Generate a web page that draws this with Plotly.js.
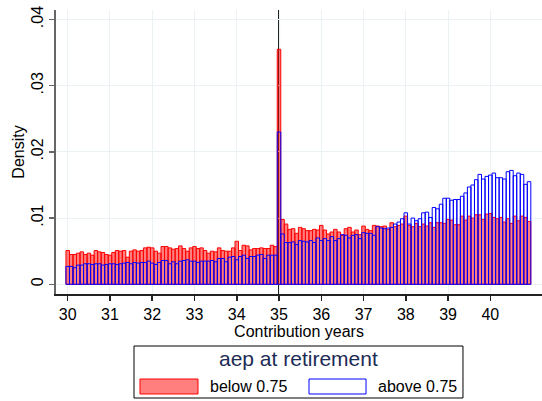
<!DOCTYPE html>
<html>
<head>
<meta charset="utf-8">
<script src="https://cdn.plot.ly/plotly-3.0.1.min.js"></script>
<style>html,body{margin:0;padding:0;background:#fff}#chart{width:542px;height:401px}</style>
</head>
<body>
<div id="chart"></div>
<script>
// Histogram bins: monthly bins (width 1/12 year) centred at 30, 30+1/12, ... 40+11/12
var binStart = 30;
var binWidth = 1 / 12;
var binCount = 132;

// Density for "below 0.75" (aep at retirement)
var belowDensity = [
  0.0051,0.0045,0.0045,0.0047,0.0049,0.0045,0.0047,0.0044,0.0051,0.0049,0.0048,0.0045,
  0.0044,0.0048,0.0051,0.0050,0.0051,0.0041,0.0050,0.0052,0.0050,0.0051,0.0055,0.0056,
  0.0055,0.0050,0.0047,0.0057,0.0057,0.0055,0.0053,0.0054,0.0058,0.0054,0.0050,0.0055,
  0.0057,0.0054,0.0055,0.0051,0.0047,0.0050,0.0049,0.0055,0.0051,0.0050,0.0050,0.0055,
  0.0065,0.0051,0.0059,0.0058,0.0052,0.0054,0.0054,0.0055,0.0054,0.0054,0.0059,0.0057,
  0.0355,0.0098,0.0091,0.0083,0.0084,0.0077,0.0086,0.0084,0.0081,0.0081,0.0083,0.0082,
  0.0089,0.0082,0.0076,0.0079,0.0083,0.0079,0.0074,0.0084,0.0086,0.0079,0.0082,0.0075,
  0.0088,0.0083,0.0081,0.0089,0.0088,0.0087,0.0088,0.0083,0.0093,0.0087,0.0089,0.0091,
  0.0103,0.0089,0.0087,0.0092,0.0087,0.0091,0.0088,0.0093,0.0086,0.0093,0.0093,0.0092,
  0.0098,0.0097,0.0090,0.0090,0.0103,0.0097,0.0103,0.0100,0.0105,0.0105,0.0098,0.0106,
  0.0107,0.0101,0.0099,0.0101,0.0094,0.0099,0.0092,0.0103,0.0096,0.0103,0.0101,0.0095
];

// Density for "above 0.75"
var aboveDensity = [
  0.0027,0.0027,0.0025,0.0029,0.0029,0.0031,0.0031,0.0030,0.0031,0.0031,0.0029,0.0030,
  0.0031,0.0031,0.0030,0.0031,0.0032,0.0033,0.0031,0.0033,0.0032,0.0033,0.0033,0.0035,
  0.0032,0.0030,0.0033,0.0036,0.0036,0.0031,0.0034,0.0031,0.0035,0.0036,0.0037,0.0035,
  0.0035,0.0033,0.0035,0.0035,0.0035,0.0036,0.0034,0.0039,0.0039,0.0034,0.0041,0.0042,
  0.0037,0.0042,0.0044,0.0039,0.0042,0.0042,0.0044,0.0045,0.0039,0.0044,0.0044,0.0044,
  0.0230,0.0076,0.0063,0.0063,0.0064,0.0060,0.0066,0.0065,0.0064,0.0066,0.0063,0.0070,
  0.0066,0.0069,0.0066,0.0072,0.0066,0.0069,0.0075,0.0074,0.0070,0.0074,0.0075,0.0069,
  0.0078,0.0077,0.0077,0.0074,0.0087,0.0085,0.0084,0.0085,0.0086,0.0091,0.0094,0.0099,
  0.0108,0.0091,0.0100,0.0096,0.0099,0.0108,0.0109,0.0101,0.0116,0.0114,0.0121,0.0130,
  0.0130,0.0127,0.0128,0.0128,0.0133,0.0138,0.0147,0.0150,0.0158,0.0166,0.0159,0.0163,
  0.0165,0.0168,0.0161,0.0161,0.0159,0.0170,0.0172,0.0164,0.0168,0.0166,0.0151,0.0155
];

var xTickVals = [30,31,32,33,34,35,36,37,38,39,40];
var xTickText = ['30','31','32','33','34','35','36','37','38','39','40'];
var yTickVals = [0,0.01,0.02,0.03,0.04];
var yTickText = ['0','.01','.02','.03','.04'];
var seriesNames = ['below 0.75','above 0.75'];
var legendTitle = 'aep at retirement';
var xTitle = 'Contribution years';
var yTitle = 'Density';
var cutoffYear = 35;

var binCenters = [];
for (var k = 0; k < binCount; k++) binCenters.push(binStart + k * binWidth);

var FONT = 'Arial, "Liberation Sans", sans-serif';

var traces = [
  {
    type: 'bar', name: seriesNames[0], x: binCenters, y: belowDensity, width: binWidth,
    marker: {color: 'rgba(255,0,0,0.5)', line: {color: 'rgb(255,0,0)', width: 1}},
    showlegend: false, hoverinfo: 'x+y'
  },
  {
    type: 'bar', name: seriesNames[1], x: binCenters, y: aboveDensity, width: binWidth,
    marker: {color: 'rgba(0,0,255,0)', line: {color: 'rgb(0,0,255)', width: 1}},
    showlegend: false, hoverinfo: 'x+y'
  }
];

// legend geometry in paper coordinates
var lg = {x0: 0.1605, x1: 0.8374, y0: -0.3662, y1: -0.1831};

var layout = {
  width: 542, height: 401,
  margin: {l: 56, r: 0, t: 10, b: 107},
  paper_bgcolor: '#ffffff', plot_bgcolor: '#ffffff',
  barmode: 'overlay', bargap: 0,
  font: {family: FONT, size: 16, color: '#000'},
  showlegend: false,
  xaxis: {
    range: [29.723, 41.223],
    tickvals: xTickVals, ticktext: xTickText,
    showgrid: true, gridcolor: '#EAF2F3', gridwidth: 1,
    zeroline: false,
    showline: true, linecolor: '#222', linewidth: 1.5,
    ticks: 'outside', ticklen: 5, tickcolor: '#222', tickwidth: 1.5,
    tickfont: {family: FONT, size: 16, color: '#000'},
    title: {text: xTitle, font: {family: FONT, size: 16, color: '#000'}, standoff: 0}
  },
  yaxis: {
    range: [-0.001465, 0.04143],
    tickvals: yTickVals, ticktext: yTickText, tickangle: -90,
    showgrid: true, gridcolor: '#EAF2F3', gridwidth: 1,
    zeroline: false,
    showline: true, linecolor: '#666', linewidth: 1.8,
    ticks: 'outside', ticklen: 5, tickcolor: '#666', tickwidth: 1.5,
    tickfont: {family: FONT, size: 16, color: '#000'},
    title: {text: yTitle, font: {family: FONT, size: 16, color: '#000'}, standoff: 0}
  },
  shapes: [
    {type: 'line', xref: 'x', yref: 'paper', x0: cutoffYear, x1: cutoffYear, y0: 0, y1: 1,
     line: {color: '#222', width: 2}, layer: 'below'},
    {type: 'rect', xref: 'paper', yref: 'paper', x0: lg.x0, x1: lg.x1, y0: lg.y0, y1: lg.y1,
     line: {color: '#000', width: 1}, fillcolor: '#fff'},
    {type: 'rect', xref: 'paper', yref: 'paper', x0: 0.1728, x1: 0.2922, y0: -0.3521, y1: -0.2993,
     line: {color: 'rgb(255,0,0)', width: 1}, fillcolor: 'rgba(255,0,0,0.5)'},
    {type: 'rect', xref: 'paper', yref: 'paper', x0: 0.5206, x1: 0.6379, y0: -0.3521, y1: -0.2993,
     line: {color: 'rgb(0,0,255)', width: 1}, fillcolor: 'rgba(0,0,255,0)'}
  ],
  annotations: [
    {xref: 'paper', yref: 'paper', x: 0.498, y: -0.2254, text: legendTitle, showarrow: false,
     xanchor: 'center', yanchor: 'middle', font: {family: FONT, size: 21, color: '#1c2b55'}},
    {xref: 'paper', yref: 'paper', x: 0.3128, y: -0.3257, text: seriesNames[0], showarrow: false,
     xanchor: 'left', yanchor: 'middle', font: {family: FONT, size: 16, color: '#000'}},
    {xref: 'paper', yref: 'paper', x: 0.6584, y: -0.3257, text: seriesNames[1], showarrow: false,
     xanchor: 'left', yanchor: 'middle', font: {family: FONT, size: 16, color: '#000'}}
  ]
};

Plotly.newPlot('chart', traces, layout, {displayModeBar: false, staticPlot: true});
</script>
</body>
</html>
